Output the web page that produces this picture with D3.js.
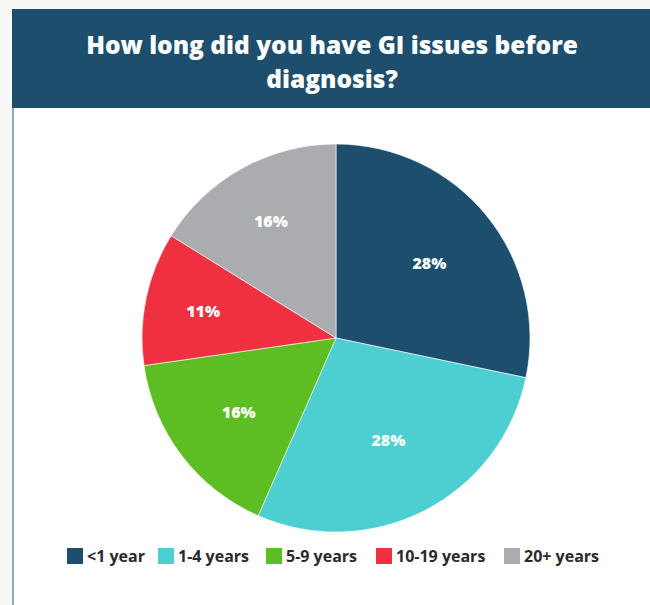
<!DOCTYPE html>
<html>
<head>
<meta charset="utf-8">
<script src="https://cdn.jsdelivr.net/npm/d3@7/dist/d3.min.js"></script>
<style>
  html, body { margin: 0; padding: 0; background: #f7f7f5; }
  svg { display: block; }
</style>
</head>
<body>
<svg id="chart" width="650" height="605"></svg>
<script>
// Duration of GI symptoms before diagnosis (% of respondents)
const categories = ["<1 year", "1-4 years", "5-9 years", "10-19 years", "20+ years"];
const values = [28, 28, 16, 11, 16];
const colors = ["#1d4e6e", "#4dced0", "#5cbe22", "#ef3040", "#abacb0"];
const titleLines = ["How long did you have GI issues before", "diagnosis?"];

// label distance from centre, as a fraction of the radius, per slice
const labelRadius = [0.62, 0.59, 0.63, 0.70, 0.69];

const svg = d3.select("#chart");
const W = 650, H = 605;
const FONT = "'Open Sans', Lato, sans-serif";

// page background and card
svg.append("rect").attr("width", W).attr("height", H).attr("fill", "#f7f7f5");
svg.append("rect").attr("x", 12).attr("y", 9).attr("width", W - 12).attr("height", H - 9).attr("fill", "#ffffff");
svg.append("rect").attr("x", 12).attr("y", 108).attr("width", 2).attr("height", H - 108).attr("fill", "#8ea5ba");

// header band
svg.append("rect").attr("x", 12).attr("y", 9).attr("width", W - 12).attr("height", 99).attr("fill", "#1d4e6e");
svg.append("text")
  .attr("x", 332).attr("y", 54)
  .attr("text-anchor", "middle")
  .attr("fill", "#ffffff")
  .style("font-family", FONT)
  .style("font-weight", 800)
  .style("font-size", "24.5px")
  .selectAll("tspan")
  .data(titleLines)
  .join("tspan")
  .attr("x", 332)
  .attr("dy", (d, i) => i === 0 ? 0 : 34)
  .text(d => d);

// pie
const cx = 336, cy = 338, R = 194;
const pie = d3.pie().sort(null).value(d => d.v);
const arcs = pie(categories.map((c, i) => ({ c, v: values[i], col: colors[i], lr: labelRadius[i] })));
const arc = d3.arc().innerRadius(0).outerRadius(R);

const g = svg.append("g").attr("transform", `translate(${cx},${cy})`);
g.selectAll("path")
  .data(arcs)
  .join("path")
  .attr("d", arc)
  .attr("fill", d => d.data.col)
  .attr("stroke", "#ffffff")
  .attr("stroke-width", 0.6);

g.selectAll("text.lbl")
  .data(arcs)
  .join("text")
  .attr("class", "lbl")
  .attr("transform", d => {
    const r = d.data.lr * R;
    return `translate(${d3.arc().innerRadius(r).outerRadius(r).centroid(d)})`;
  })
  .attr("text-anchor", "middle")
  .attr("dy", "0.4em")
  .attr("fill", "#ffffff")
  .style("font-family", FONT)
  .style("font-weight", 800)
  .style("font-size", "16px")
  .text(d => d.data.v + "%");

// legend
const legendX = [67, 158, 266, 376, 504];
const lg = svg.append("g");
const items = lg.selectAll("g")
  .data(categories)
  .join("g")
  .attr("transform", (d, i) => `translate(${legendX[i]},548)`);
items.append("rect")
  .attr("width", 16).attr("height", 16)
  .attr("fill", (d, i) => colors[i]);
items.append("text")
  .attr("x", 20).attr("y", 14)
  .attr("fill", "#2a2a2e")
  .style("font-family", FONT)
  .style("font-weight", 700)
  .style("font-size", "16px")
  .text(d => d);
</script>
</body>
</html>
